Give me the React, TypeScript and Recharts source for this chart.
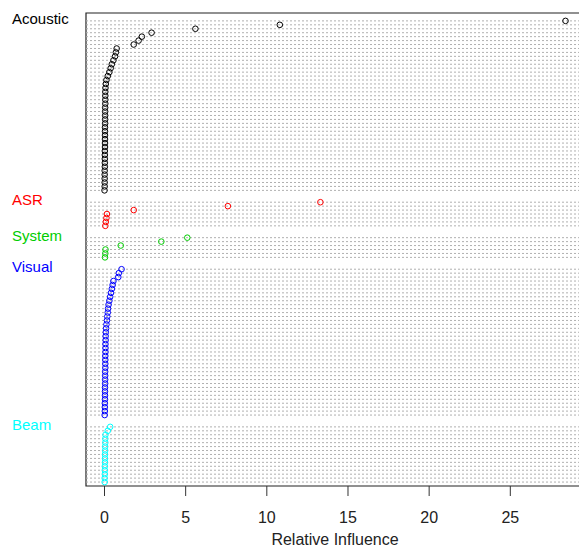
import React from "react";
import {
  ScatterChart,
  Scatter,
  XAxis,
  YAxis,
  ReferenceLine,
  ReferenceArea,
} from "recharts";

// relative influence per variable, largest first, one list per group (top to bottom)
const groupNames = ["Acoustic", "ASR", "System", "Visual", "Beam"];
const groupColors = ["#000000", "#FF0000", "#00CD00", "#0000FF", "#00FFFF"];

const acoustic = [
  28.4, 10.8, 5.6, 2.9, 2.3, 2.1, 1.8, 0.75, 0.7, 0.65, 0.55, 0.45, 0.38, 0.3,
  0.2, 0.12, 0.08, 0.06, 0.05, 0.05, 0.05, 0.05, 0.04, 0.04, 0.04, 0.04, 0.04,
  0.03, 0.03, 0.03, 0.03, 0.03, 0.03, 0.02, 0.02, 0.02, 0.02, 0.02, 0.01, 0.01,
  0.01, 0.01, 0.01, 0.0,
];
const asr = [13.3, 7.6, 1.8, 0.15, 0.12, 0.08, 0.05];
const system = [5.1, 3.5, 1.0, 0.06, 0.05, 0.03];
const visual = [
  1.05, 0.88, 0.85, 0.55, 0.5, 0.45, 0.4, 0.35, 0.3, 0.25, 0.22, 0.2, 0.17,
  0.15, 0.12, 0.1, 0.08, 0.07, 0.07, 0.06, 0.06, 0.06, 0.05, 0.05, 0.05, 0.05,
  0.04, 0.04, 0.04, 0.04, 0.03, 0.03, 0.03, 0.03, 0.02, 0.02, 0.02, 0.01,
];
const beam = [
  0.35, 0.2, 0.06, 0.05, 0.05, 0.04, 0.04, 0.03, 0.03, 0.03, 0.02, 0.02, 0.02,
  0.01, 0.01,
];

const xTicks = [0, 5, 10, 15, 20, 25];

const groupValues = [acoustic, asr, system, visual, beam];
const FONT = "'Liberation Sans', Arial, sans-serif";

// dotchart style rows: 2 empty rows between groups, top row at the top
const totalRows =
  groupValues.reduce((s, v) => s + v.length, 0) + 2 * (groupValues.length - 1);

let row = totalRows;
const groups = groupValues.map((values, gi) => {
  const points = values.map((v) => ({ x: v, y: row-- }));
  row -= 2;
  return {
    name: groupNames[gi],
    color: groupColors[gi],
    top: points[0].y,
    points,
  };
});

const allRows = groups.flatMap((g) => g.points.map((p) => p.y));
const labelRows = groups.map((g) => g.top);

const renderGroupTick = (props: any) => {
  const { y, payload } = props;
  const g = groups.find((gr) => gr.top === payload.value);
  if (!g) return <g />;
  return (
    <text
      x={12}
      y={y - 2}
      dy="0.35em"
      fill={g.color}
      fontSize={15}
      fontFamily={FONT}
      textAnchor="start"
    >
      {g.name}
    </text>
  );
};

const makeDot = (color: string) => (props: any) =>
  (
    <circle
      cx={props.cx}
      cy={props.cy}
      r={2.8}
      fill="none"
      stroke={color}
      strokeWidth={1}
    />
  );

export default function App() {
  return (
    <div
      style={{
        position: "absolute",
        left: 0,
        top: 0,
        width: 579,
        height: 550,
        overflow: "hidden",
        background: "#fff",
      }}
    >
      <ScatterChart
        width={600}
        height={550}
        margin={{ top: 13, right: 16, bottom: 0, left: 0 }}
      >
        <XAxis
          type="number"
          dataKey="x"
          domain={[-1.14, 29.54]}
          ticks={xTicks}
          axisLine={false}
          tickLine={{ stroke: "#333" }}
          tickSize={10}
          tickMargin={16}
          height={64}
          tick={{ fill: "#222", fontSize: 16, fontFamily: FONT }}
          allowDataOverflow
          label={{
            value: "Relative Influence",
            position: "insideBottom",
            offset: 5,
            fill: "#222",
            fontSize: 16,
            fontFamily: FONT,
          }}
        />
        <YAxis
          type="number"
          dataKey="y"
          domain={[0, totalRows + 2]}
          ticks={labelRows}
          interval={0}
          axisLine={false}
          tickLine={false}
          width={86}
          tick={renderGroupTick}
          allowDataOverflow
        />
        {allRows.map((r) => (
          <ReferenceLine
            key={r}
            y={r}
            stroke="#b0b0b0"
            strokeDasharray="2 2"
            strokeWidth={1}
          />
        ))}
        <ReferenceArea
          x1={-1.14}
          x2={29.54}
          y1={0}
          y2={totalRows + 2}
          fill="none"
          stroke="#222"
          strokeWidth={1.2}
        />
        {groups.map((g) => (
          <Scatter
            key={g.name}
            name={g.name}
            data={g.points}
            shape={makeDot(g.color)}
            isAnimationActive={false}
          />
        ))}
      </ScatterChart>
    </div>
  );
}
